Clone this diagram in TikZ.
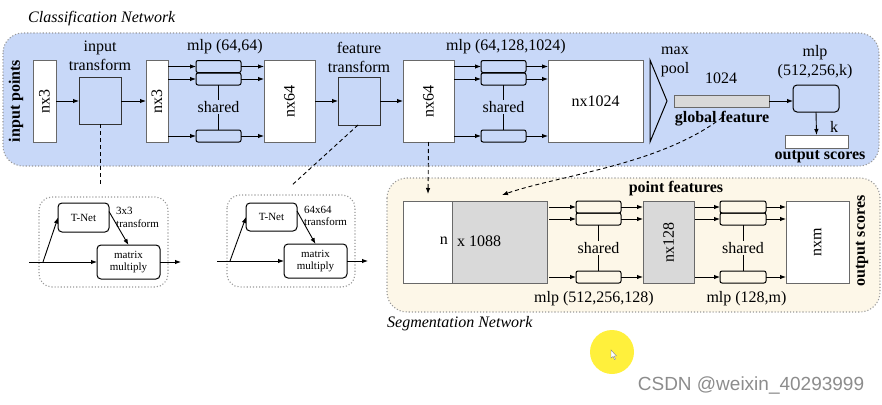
\documentclass[tikz,border=0pt]{standalone}
\usepackage{fontspec}
\setmainfont{Liberation Serif}
\newfontfamily\wmfont{Liberation Sans}
\usetikzlibrary{arrows.meta,calc}
\definecolor{clsblue}{RGB}{200,216,248}
\definecolor{segcream}{RGB}{253,247,232}
\definecolor{boxgray}{RGB}{217,217,217}
\definecolor{edgegray}{RGB}{105,105,105}
\definecolor{wmgray}{RGB}{140,140,140}
\definecolor{hiyellow}{RGB}{255,240,60}
\tikzset{
  base/.style={font=\fontsize{16}{19}\selectfont},
  small/.style={font=\fontsize{11}{12.5}\selectfont},
  blk/.style={draw=edgegray, line width=1pt, fill=white, inner sep=0pt, outer sep=0pt},
  gblk/.style={blk, fill=boxgray},
  tbox/.style={draw=black!80, line width=1pt, fill=clsblue, inner sep=0pt, outer sep=0pt},
  mlpr/.style={draw=black, line width=1pt, rounded corners=2pt, minimum width=45pt, minimum height=12pt, inner sep=0pt, outer sep=0pt},
  rbox/.style={draw=black, line width=1pt, rounded corners=4pt, inner sep=0pt, outer sep=0pt},
  arr/.style={line width=0.9pt, -{Latex[length=6pt,width=4.5pt]}},
  ln/.style={line width=1pt},
  dsh/.style={line width=0.9pt, dashed, dash pattern=on 4pt off 3pt},
  panel/.style={draw=gray!80, dotted, line width=1.1pt, rounded corners=20pt},
  lbl/.style={base, inner sep=1pt},
  blbl/.style={base, font=\fontsize{16}{19}\selectfont\bfseries, inner sep=1pt},
}
\begin{document}
\begin{tikzpicture}[x=1pt,y=-1pt]
\useasboundingbox (0,0) rectangle (882,404);
% ---------- panels ----------
\draw[panel, fill=clsblue] (3,33) rectangle (879,166);
\draw[panel, fill=segcream] (387,178) rectangle (880,312);
\node[lbl, font=\fontsize{16}{19}\selectfont\itshape, anchor=west] (ctitle) at (27,19) {Classification Network};
\node[lbl, font=\fontsize{16}{19}\selectfont\itshape, anchor=west] (stitle) at (386,324) {Segmentation Network};

% ---------- classification network ----------
\node[blbl, rotate=90] (inpts) at (16,101) {input points};
\node[blk, minimum width=23pt, minimum height=82pt] (nxA) at (44.5,101) {};
\node[lbl, rotate=90] at (nxA) {nx3};
\node[tbox, minimum width=42pt, minimum height=47pt] (itf) at (100,100.5) {};
\node[lbl, align=center] (itflbl) at (100,56) {input\\transform};
\node[blk, minimum width=22pt, minimum height=82pt] (nxB) at (157,101) {};
\node[lbl, rotate=90] at (nxB) {nx3};

\node[mlpr] (m1a) at (218.5,66.5) {};
\node[mlpr] (m1b) at (218.5,79) {};
\node[mlpr] (m1c) at (218.5,136) {};
\node[lbl, fill=clsblue] (sh1) at (218.5,107) {shared};
\node[lbl] (mlp1) at (225,47) {mlp (64,64)};

\node[blk, minimum width=51pt, minimum height=82pt] (nxC) at (289.5,101) {};
\node[lbl, rotate=90] at (nxC) {nx64};
\node[tbox, minimum width=42pt, minimum height=48pt] (ftf) at (359,101) {};
\node[lbl, align=center] (ftflbl) at (359,57) {feature\\transform};
\node[blk, minimum width=51pt, minimum height=82pt] (nxD) at (428.5,101) {};
\node[lbl, rotate=90] at (nxD) {nx64};

\node[mlpr] (m2a) at (503.5,66.5) {};
\node[mlpr] (m2b) at (503.5,79) {};
\node[mlpr] (m2c) at (503.5,136) {};
\node[lbl, fill=clsblue] (sh2) at (503.5,107) {shared};
\node[lbl] (mlp2) at (506,47) {mlp (64,128,1024)};

\node[blk, minimum width=95pt, minimum height=82pt] (nxE) at (595.5,101) {};
\node[lbl] at (nxE) {nx1024};

\draw[line width=1pt, fill=clsblue] (650,60) -- (667,101) -- (650,142) -- cycle;
\node[lbl, align=center] (mp) at (675,61.5) {max\\pool};
\node[lbl] (n1024) at (721,78) {1024};
\node[gblk, minimum width=95pt, minimum height=12pt] (gbar) at (721.5,101) {};
\node[blbl] (gf) at (722,119) {global feature};
\node[rbox, fill=clsblue, minimum width=46pt, minimum height=27pt] (m3) at (816,98.5) {};
\node[lbl, align=center] (mlp3) at (815,62) {mlp\\(512,256,k)};
\node[blk, minimum width=63pt, minimum height=13pt] (outbar) at (816.5,141.5) {};
\node[lbl] (klbl) at (834,127) {k};
\node[blbl] (os1) at (820,157) {output scores};

% classification connectors
\draw[arr] (nxA.east) -- (itf.west |- nxA.east);
\draw[arr] (itf.east |- nxB.west) -- (nxB.west);
\foreach \r in {m1a,m1b,m1c}{
  \draw[arr] (nxB.east |- \r.west) -- (\r.west);
  \draw[arr] (\r.east) -- (nxC.west |- \r.east);
}
\draw[ln] (m1b.south) -- (sh1.north);
\draw[ln] (sh1.south) -- (m1c.north);
\draw[arr] (nxC.east) -- (ftf.west);
\draw[arr] (ftf.east) -- (nxD.west);
\foreach \r in {m2a,m2b,m2c}{
  \draw[arr] (nxD.east |- \r.west) -- (\r.west);
  \draw[arr] (\r.east) -- (nxE.west |- \r.east);
}
\draw[ln] (m2b.south) -- (sh2.north);
\draw[ln] (sh2.south) -- (m2c.north);
\draw[arr] (gbar.east) -- (m3.west |- gbar.east);
\draw[arr] (m3.south) -- (outbar.north);

% ---------- T-Net sub diagrams ----------
\draw[panel, rounded corners=13pt, fill=white] (39,197) rectangle (168,287);
\node[rbox, small, minimum width=51pt, minimum height=29pt] (tn1) at (83.5,217.5) {T-Net};
\node[small, align=left, anchor=west, inner sep=0pt] (tl1) at (116,217.5) {3x3\\transform};
\node[rbox, small, align=center, minimum width=63pt, minimum height=34pt] (mm1) at (128.5,262) {matrix\\multiply};
\coordinate (in1) at (29,262);
\coordinate (b1) at (43,262);
\coordinate (out1) at (181,262);
\draw[arr] (in1) -- (mm1.west);
\draw[arr] (b1) -- (tn1.west);
\draw[arr] ([yshift=6pt]tn1.east) -- (mm1.north);
\draw[arr] (mm1.east) -- (out1);

\draw[panel, rounded corners=13pt, fill=white] (227,195) rectangle (355,287);
\node[rbox, small, minimum width=51pt, minimum height=28pt] (tn2) at (271.5,217) {T-Net};
\node[small, align=left, anchor=west, inner sep=0pt] (tl2) at (304,216) {64x64\\transform};
\node[rbox, small, align=center, minimum width=63pt, minimum height=34pt] (mm2) at (315.5,261) {matrix\\multiply};
\coordinate (in2) at (217,261);
\coordinate (b2) at (230,261);
\coordinate (out2) at (368,261);
\draw[arr] (in2) -- (mm2.west);
\draw[arr] (b2) -- (tn2.west);
\draw[arr] ([yshift=6pt]tn2.east) -- (mm2.north);
\draw[arr] (mm2.east) -- (out2);

% dashed links
\coordinate (d1) at (100,184);
\coordinate (d2) at (291,186);
\draw[dsh] (itf.south) -- (d1);
\draw[dsh] ([xshift=-1pt]ftf.south) -- (d2);

% ---------- segmentation network ----------
\node[blbl] (pf) at (676,189) {point features};
\node[blk, minimum width=49pt, minimum height=82pt] (bigW) at (427.5,242) {};
\node[gblk, minimum width=95pt, minimum height=82pt] (bigG) at (499.5,242) {};
\node[lbl, anchor=east] (nlbl) at (449,241) {n};
\node[lbl, anchor=west] (xlbl) at (456,241) {x 1088};

\node[mlpr] (s1a) at (598.5,207) {};
\node[mlpr] (s1b) at (598.5,219) {};
\node[mlpr] (s1c) at (598.5,277) {};
\node[lbl, fill=segcream] (sh3) at (598.5,248) {shared};
\node[lbl] (mlp4) at (594,299) {mlp (512,256,128)};

\node[gblk, minimum width=51pt, minimum height=82pt] (nx128) at (668.5,242) {};
\node[lbl, rotate=90] at (nx128) {nx128};

\node[mlpr, minimum width=46pt] (s2a) at (743,207) {};
\node[mlpr, minimum width=46pt] (s2b) at (743,219) {};
\node[mlpr, minimum width=46pt] (s2c) at (743,277) {};
\node[lbl, fill=segcream] (sh4) at (743,248) {shared};
\node[lbl] (mlp5) at (746.5,299) {mlp (128,m)};

\node[blk, minimum width=63pt, minimum height=82pt] (nxm) at (817.5,242) {};
\node[lbl, rotate=90] at (nxm) {nxm};
\node[blbl, rotate=90] (os2) at (862,241) {output scores};

\foreach \r in {s1a,s1b,s1c}{
  \draw[arr] ([xshift=2pt]bigG.east |- \r.west) -- (\r.west);
  \draw[arr] (\r.east) -- (nx128.west |- \r.east);
}
\draw[ln] (s1b.south) -- (sh3.north);
\draw[ln] (sh3.south) -- (s1c.north);
\foreach \r in {s2a,s2b,s2c}{
  \draw[arr] ([xshift=1pt]nx128.east |- \r.west) -- (\r.west);
  \draw[arr] (\r.east) -- (nxm.west |- \r.east);
}
\draw[ln] (s2b.south) -- (sh4.north);
\draw[ln] (sh4.south) -- (s2c.north);

% links into segmentation
\coordinate (d3) at (428,194);
\coordinate (d4) at (502,195);
\draw[dsh, -{Latex[length=6pt,width=4.5pt]}] (nxD.south) -- (d3);
\draw[dsh, -{Latex[length=6pt,width=4.5pt]}] ([yshift=10pt]gf.south) .. controls (660,165) and (560,175) .. (d4);

% ---------- overlay artefacts ----------
\fill[hiyellow] (612,352) circle (22);
\draw[gray, fill=white, line width=0.4pt] (611,350) -- (611,358) -- (613,356.5) -- (614.5,359.5) -- (615.5,359) -- (614,356) -- (616.5,356) -- cycle;
\node[font=\wmfont\fontsize{19}{22}\selectfont, text=wmgray, inner sep=0pt] (wm) at (751,385) {CSDN @weixin\_40293999};
\end{tikzpicture}
\end{document}
